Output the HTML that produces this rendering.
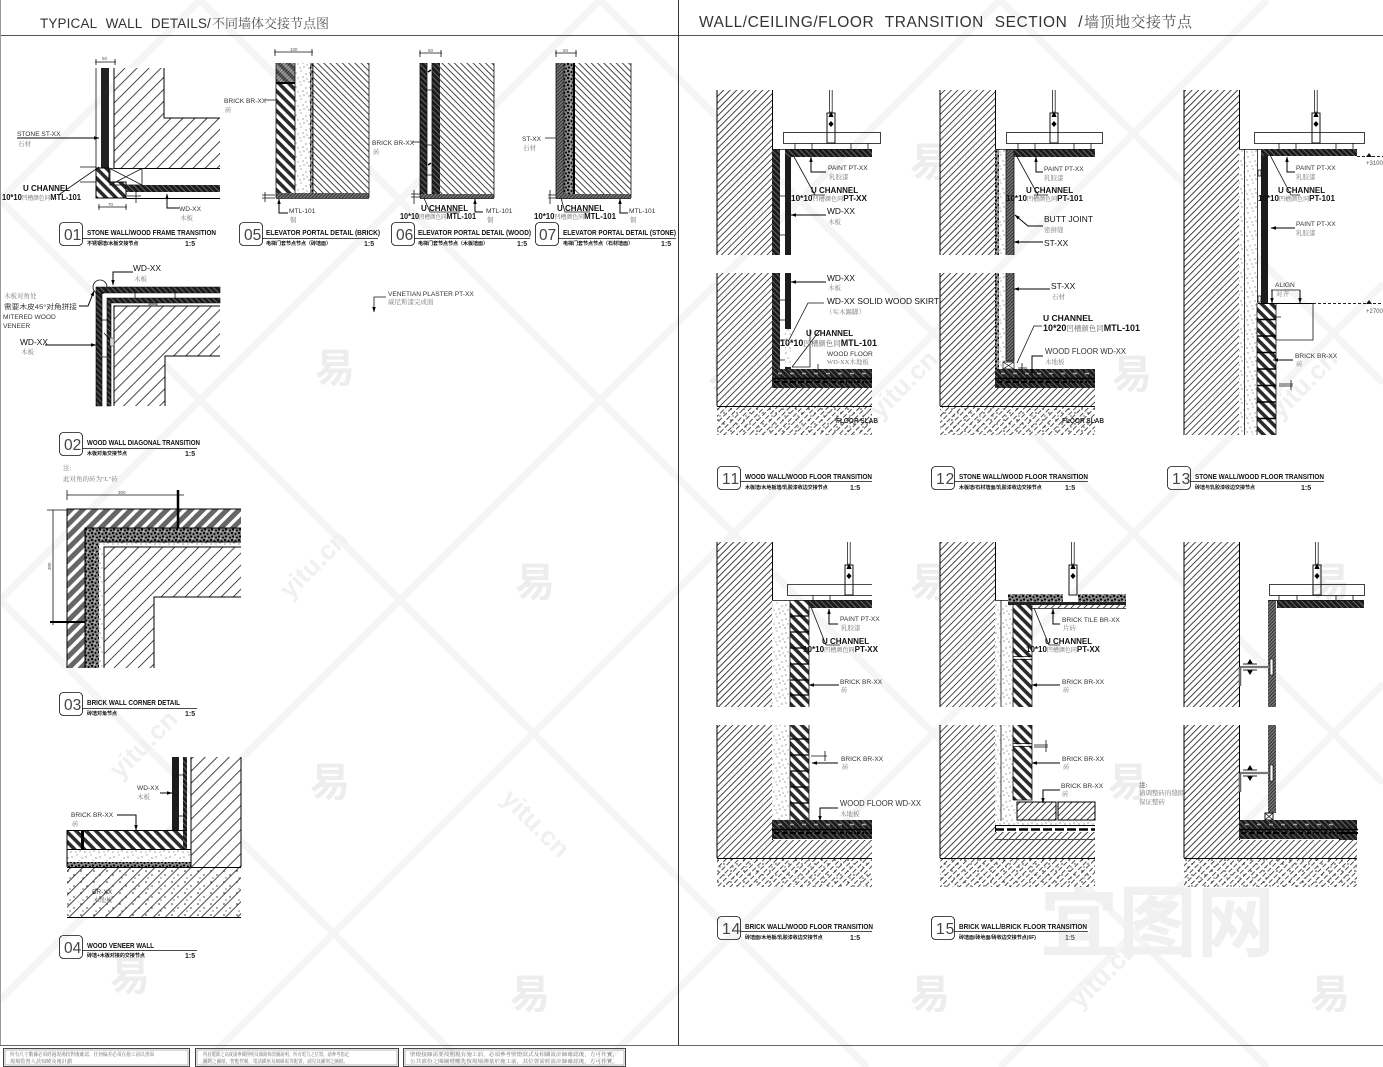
<!DOCTYPE html>
<html><head><meta charset="utf-8"><style>
html,body{margin:0;padding:0;background:#fff}
svg{display:block}
text{font-family:"Liberation Sans","Noto Sans CJK SC",sans-serif;fill:#333}
.l{font-size:6.6px}
.c{font-size:6.5px;fill:#777;font-family:"Liberation Serif","Noto Serif CJK SC",serif}
.m{font-size:8.4px;fill:#111}
.u{font-size:8px;fill:#111;font-weight:bold}
.g{font-size:6px;fill:#666;font-weight:normal;font-family:"Liberation Serif","Noto Serif CJK SC",serif}
.t{font-size:7px;font-weight:bold;fill:#111}
.s{font-size:5px;font-weight:bold;fill:#111}
.n{font-size:15.5px;fill:#444}
.k{font-size:7px;font-weight:bold;fill:#222}
.d{font-size:4.5px;fill:#555}
.f{font-size:5px;fill:#666;font-family:"Liberation Serif","Noto Serif CJK SC",serif}
.e{stroke:#000;fill:none;stroke-width:1}
.o{stroke:#111;fill:none;stroke-width:.8}
.w{fill:#ededed;font-size:40px;font-weight:bold}
.y{fill:#f0f0f0;font-size:26px;font-weight:bold}
.T{fill:#333;white-space:pre}
.Tc{fill:#555;font-family:"Liberation Serif","Noto Serif CJK SC",serif}
</style></head><body>
<svg xmlns="http://www.w3.org/2000/svg" width="1383" height="1067" viewBox="0 0 1383 1067">
<defs>
<pattern id="h" width="4.6" height="4.6" patternUnits="userSpaceOnUse" patternTransform="rotate(-45)"><rect width="4.6" height="4.6" fill="#fff"/><rect width="4.6" height=".9" fill="#333"/></pattern>
<pattern id="H" width="8.500" height="8.500" patternUnits="userSpaceOnUse" patternTransform="rotate(-45)"><rect width="8.500" height="8.500" fill="#fff"/><rect width="8.500" height=".9" fill="#333"/></pattern>
<pattern id="b" width="4.4" height="4.4" patternUnits="userSpaceOnUse" patternTransform="rotate(45)"><rect width="4.4" height="4.4" fill="#fff"/><rect width="4.4" height=".9" fill="#333"/></pattern>
<pattern id="br" width="7" height="7" patternUnits="userSpaceOnUse" patternTransform="rotate(45)"><rect width="7" height="7" fill="#fff"/><rect width="7" height="3.6" fill="#2a2a2a"/></pattern>
<pattern id="bq" width="8.5" height="8.5" patternUnits="userSpaceOnUse" patternTransform="rotate(-45)"><rect width="8.5" height="8.5" fill="#fff"/><rect width="8.5" height="5" fill="#666"/></pattern>
<pattern id="dt" width="14" height="14" patternUnits="userSpaceOnUse"><rect width="14" height="14" fill="#fff"/><g fill="#222"><circle cx="2" cy="3" r=".55"/><circle cx="7" cy="1" r=".45"/><circle cx="12" cy="4" r=".55"/><circle cx="4" cy="8" r=".45"/><circle cx="9" cy="7" r=".55"/><circle cx="13" cy="9" r=".45"/><circle cx="1" cy="12" r=".55"/><circle cx="6" cy="12" r=".45"/><circle cx="10" cy="11" r=".55"/></g></pattern>
<pattern id="dd" width="7" height="7" patternUnits="userSpaceOnUse"><rect width="7" height="7" fill="#888"/><g fill="#000"><circle cx="1" cy="1" r="1.100"/><circle cx="4.5" cy="2" r="1"/><circle cx="2" cy="4.5" r="1.100"/><circle cx="6" cy="5.5" r="1"/></g><circle cx="3.5" cy="6.3" r=".5" fill="#fff"/></pattern>
<pattern id="w" width="4" height="4" patternUnits="userSpaceOnUse" patternTransform="rotate(45)"><rect width="4" height="4" fill="#1c1c1c"/><rect width="4" height=".8" fill="#777"/></pattern>
<pattern id="gy" width="2.4" height="2.4" patternUnits="userSpaceOnUse" patternTransform="rotate(-45)"><rect width="2.4" height="2.4" fill="#777"/><rect width="2.4" height=".8" fill="#222"/></pattern>
<pattern id="sl" width="7" height="4.500" patternUnits="userSpaceOnUse" patternTransform="rotate(-45)"><rect width="7" height="4.500" fill="#fff"/><rect width="5" height=".9" fill="#333"/></pattern>
<pattern id="sd" width="13" height="11" patternUnits="userSpaceOnUse"><g fill="#222"><circle cx="3" cy="2" r=".8"/><circle cx="9" cy="6" r=".7"/><circle cx="5" cy="9" r=".6"/></g></pattern>
<g id="hg"><path d="M-1.5 0V23M1.2 0V23" stroke="#222" stroke-width=".8" fill="none"/><path d="M0 21l-2.6 6H2.6z" fill="#000"/><rect x="-4" y="23" width="8" height="30" fill="#fff" fill-opacity="0" stroke="#111"/><path d="M0 31l-2.6 3 2.6 3 2.6-3z" fill="#000"/></g>
<g id="fl"><rect x="0" y="0" width="100" height="19" fill="url(#w)"/><path d="M6 4.5H98" stroke="#aaa" stroke-width="1.6" stroke-dasharray="4 8"/><path d="M0 9.5H100" stroke="#000" stroke-width="1.4"/><path d="M0 13H100" stroke="#000" stroke-width="2" stroke-dasharray="7 1.5"/><path d="M0 13H100" stroke="#999" stroke-width=".7" stroke-dasharray="2 6"/></g>
<marker id="a" markerWidth="6" markerHeight="6" refX="5" refY="2.5" orient="auto" markerUnits="userSpaceOnUse"><path d="M0 .8L5.5 2.5L0 4.2z" fill="#000"/></marker>
</defs>
<rect width="1383" height="1067" fill="#fff"/>

<!-- watermark -->
<g stroke="#f5f5f5" stroke-width="7" fill="none">
<path d="M0 200L200 0M0 600L600 0M0 1000L1000 0M200 1067L1267 0M600 1067L1383 284M1000 1067L1383 684M0 600L467 1067M0 200L867 1067M200 0L1267 1067M600 0L1383 783M1000 0L1383 383"/>
</g>
<g class="w"><text class="w" x="315" y="382">易</text><text class="w" x="515" y="596">易</text><text class="w" x="110" y="990">易</text><text class="w" x="310" y="796">易</text><text class="w" x="910" y="176">易</text><text class="w" x="1112" y="388">易</text><text class="w" x="510" y="1008">易</text><text class="w" x="910" y="1008">易</text><text class="w" x="1310" y="1008">易</text><text class="w" x="1310" y="596">易</text><text class="w" x="910" y="596">易</text><text class="w" x="708" y="388">易</text><text class="w" x="1108" y="796">易</text></g>
<text class="y" transform="translate(290,600) rotate(-45)">yitu.cn</text>
<text class="y" transform="translate(500,800) rotate(45)">yitu.cn</text>
<text class="y" transform="translate(120,780) rotate(-45)">yitu.cn</text>
<text class="y" transform="translate(880,420) rotate(-45)">yitu.cn</text>
<text class="y" transform="translate(1280,420) rotate(-45)">yitu.cn</text>
<text class="y" transform="translate(1080,1010) rotate(-45)">yitu.cn</text>
<text x="1040" y="950" style="font-size:78px;fill:#f0f0f0;font-weight:bold" textLength="235" lengthAdjust="spacingAndGlyphs">宜图网</text>

<!-- frame -->
<path d="M0 35.5H1383" stroke="#555" stroke-width="1"/>
<path d="M678.5 0V1045" stroke="#333" stroke-width="1"/>
<path d="M.5 0V1045" stroke="#999" stroke-width="1"/>
<path d="M0 1045.5H1383" stroke="#666" stroke-width="1"/>
<text class="T" x="40" y="28" style="font-size:13.500px;letter-spacing:1.200px;word-spacing:5px" textLength="172" lengthAdjust="spacing">TYPICAL WALL DETAILS/</text>
<text class="Tc" x="212" y="28" style="font-size:13px" textLength="117" lengthAdjust="spacing">不同墙体交接节点图</text>
<text class="T" x="699" y="27" style="font-size:15.500px;letter-spacing:1.500px;word-spacing:6px" textLength="385" lengthAdjust="spacing">WALL/CEILING/FLOOR TRANSITION SECTION /</text>
<text class="Tc" x="1084" y="27" style="font-size:15px" textLength="108" lengthAdjust="spacing">墙顶地交接节点</text>

<!-- 01 -->
<path d="M114 68H164V118H220V168H114z" fill="url(#H)"/><path class="e" d="M114 68V168M164 68V118H220M114 168.500H220"/>
<rect x="101" y="68" width="8" height="100" fill="#222"/><path class="o" d="M96 68V198"/>
<path d="M96 168H109V182H126V198H96z" fill="url(#br)" stroke="#000"/>
<path class="o" d="M110 168.500H142V185H110zM110 168.500L142 185M142 168.500L110 185"/>
<rect x="126" y="185" width="94" height="7" fill="url(#w)"/><path class="e" d="M126 198.500H220"/>
<path class="o" d="M95 62H116M96 59V65M115 59V65M98 207H127M99 204V210M126 204V210M80 167H96M80 182H96M136 190V203M127 196H141"/>
<path class="e" d="M17 138H99" marker-end="url(#a)"/><path class="o" d="M60 194L99 167"/><path class="e" d="M179 208H167V194" marker-end="url(#a)"/>
<text class="d" x="102" y="60">50</text><text class="d" x="108" y="206">70</text>
<text class="l" x="17" y="136">STONE ST-XX</text><text class="c" x="18" y="146">石材</text>
<text class="u" x="23" y="191">U CHANNEL</text><text class="u" x="2" y="200" textLength="79" lengthAdjust="spacingAndGlyphs">10*10<tspan class="g">凹槽颜色同</tspan>MTL-101</text>
<text class="l" x="179" y="211">WD-XX</text><text class="c" x="180" y="220">木板</text>
<rect x="59.500" y="222.500" width="23" height="23" rx="4" class="o"/><text class="n" x="64" y="240">01</text>
<path class="o" d="M82 238.500H197"/><text class="t" x="87" y="235" textLength="129" lengthAdjust="spacingAndGlyphs">STONE WALL/WOOD FRAME TRANSITION</text><text class="s" x="87" y="245">不锈钢墙/木板交接节点</text><text class="k" x="185" y="246">1:5</text>

<!-- 05 -->
<rect x="276" y="63" width="19" height="130" fill="url(#br)"/><rect x="295" y="63" width="18" height="130" fill="url(#dt)"/><rect x="310" y="63" width="3" height="130" fill="url(#dd)"/>
<rect x="276" y="63" width="19" height="20" fill="url(#gy)" opacity=".7"/><path d="M276 83H295" stroke="#000" stroke-width="2"/>
<rect x="313" y="63" width="56" height="130" fill="url(#b)"/><rect x="276" y="193" width="93" height="5" fill="url(#gy)"/><path class="o" d="M276 63V198M295 63V193M313 63V193M369 63V198M276 198.500H369"/>
<path class="o" d="M274 52H313M275 49V56M312 49V56M265 192V202M262 195H275M262 198H275M265 100H276"/><path class="e" d="M288 213H279V199" marker-end="url(#a)"/>
<text class="d" x="290" y="51">100</text>
<text class="l" x="224" y="103">BRICK BR-XX</text><text class="c" x="225" y="112">砖</text><text class="l" x="289" y="213">MTL-101</text><text class="c" x="290" y="222">铜</text>
<rect x="239.500" y="222.500" width="23" height="23" rx="4" class="o"/><text class="n" x="244" y="240">05</text>
<path class="o" d="M262 238.500H378"/><text class="t" x="266" y="235" textLength="114" lengthAdjust="spacingAndGlyphs">ELEVATOR PORTAL DETAIL (BRICK)</text><text class="s" x="266" y="245">电梯门套节点节点（砖墙面）</text><text class="k" x="364" y="246">1:5</text>
<text class="l" x="372" y="145">BRICK BR-XX</text><text class="c" x="373" y="154">砖</text><path class="o" d="M412 142H420"/>

<!-- 06 -->
<rect x="420" y="63" width="7" height="131" fill="url(#w)"/><rect x="432" y="63" width="8" height="131" fill="url(#w)"/><rect x="440" y="63" width="54" height="131" fill="url(#b)"/>
<rect x="420" y="194" width="74" height="4.500" fill="url(#gy)"/><path class="o" d="M427 90H432M427 145H432M427 175H432M427 63V194M432 63V194M494 63V198M420 63V198M420 198.500H494"/>
<path d="M428 72l3 -2M428 165l3-2" stroke="#000" stroke-width="1.500"/>
<path class="o" d="M419 53H442M420 50V57M441 50V57M411 194H420M411 197H420M414 190V204M424 198L430 212H460"/><path class="e" d="M483 212H475V199" marker-end="url(#a)"/>
<text class="d" x="428" y="52">50</text>
<text class="u" x="421" y="211">U CHANNEL</text><text class="u" x="400" y="219" textLength="76" lengthAdjust="spacingAndGlyphs">10*10<tspan class="g">凹槽颜色同</tspan>MTL-101</text>
<text class="l" x="486" y="213">MTL-101</text><text class="c" x="487" y="222">铜</text>
<rect x="391.500" y="222.500" width="23" height="23" rx="4" class="o"/><text class="n" x="396" y="240">06</text>
<path class="o" d="M414 238.500H530"/><text class="t" x="418" y="235" textLength="113" lengthAdjust="spacingAndGlyphs">ELEVATOR PORTAL DETAIL (WOOD)</text><text class="s" x="418" y="245">电梯门套节点节点（木板墙面）</text><text class="k" x="517" y="246">1:5</text>

<!-- 07 -->
<rect x="556" y="63" width="8" height="131" fill="url(#gy)"/><rect x="564" y="63" width="9" height="131" fill="url(#dd)"/><rect x="573" y="63" width="2.500" height="131" fill="#000"/><rect x="575" y="63" width="56" height="131" fill="url(#b)"/>
<rect x="556" y="194" width="75" height="4.500" fill="url(#gy)"/><path class="o" d="M556 63V198M631 63V198M556 198.500H631M564 63V194"/>
<path class="o" d="M555 53H577M556 50V57M576 50V57M545 138H556M548 195H556M548 198H556M550 190V204M561 198L565 212H590"/><path class="e" d="M628 213H620V199" marker-end="url(#a)"/>
<text class="d" x="563" y="52">50</text>
<text class="l" x="522" y="141">ST-XX</text><text class="c" x="523" y="150">石材</text>
<text class="u" x="557" y="211">U CHANNEL</text><text class="u" x="534" y="219" textLength="82" lengthAdjust="spacingAndGlyphs">10*10<tspan class="g">凹槽颜色同</tspan>MTL-101</text>
<text class="l" x="629" y="213">MTL-101</text><text class="c" x="630" y="222">铜</text>
<rect x="535.500" y="222.500" width="23" height="23" rx="4" class="o"/><text class="n" x="539" y="240">07</text>
<path class="o" d="M558 238.500H676"/><text class="t" x="563" y="235" textLength="113" lengthAdjust="spacingAndGlyphs">ELEVATOR PORTAL DETAIL (STONE)</text><text class="s" x="563" y="245">电梯门套节点节点（石材墙面）</text><text class="k" x="661" y="246">1:5</text>

<!-- venetian -->
<path class="o" d="M386 297H374V312" marker-end="url(#a)"/>
<text class="l" x="388" y="296">VENETIAN PLASTER  PT-XX</text><text class="c" x="388" y="304">威尼斯漆完成面</text>

<!-- 02 -->
<path d="M114 306H220V356H165V406H114z" fill="url(#H)"/><path class="e" d="M114 406V306H220M220 356H165V406"/>
<path d="M96 287H220V293H102V406H96z" fill="url(#w)" stroke="#000" stroke-width=".6"/>
<path d="M107 298H220V303H111V406H107z" fill="url(#w)" stroke="#000" stroke-width=".6"/>
<path class="o" d="M102 320H107M102 357H107M135 293V298M175 293V298M104 333L110 340"/>
<rect x="149" y="303" width="8" height="3" fill="#999" stroke="#222" stroke-width=".5"/><rect x="110" y="338" width="4" height="8" fill="#ddd" stroke="#222" stroke-width=".5"/>
<circle cx="100" cy="287" r="7" class="o"/>
<path class="e" d="M79 306H88L94 291" marker-end="url(#a)"/><path class="e" d="M133 272H113V285" marker-end="url(#a)"/><path class="e" d="M45 345H96" marker-end="url(#a)"/>
<text class="c" x="4" y="298">木板对角处</text><text class="l" x="4" y="309" textLength="73" lengthAdjust="spacingAndGlyphs">需要木皮45°对角拼接</text><text class="l" x="3" y="319">MITERED WOOD</text><text class="l" x="3" y="328">VENEER</text>
<text class="m" x="133" y="271">WD-XX</text><text class="c" x="134" y="281">木板</text><text class="m" x="20" y="345">WD-XX</text><text class="c" x="21" y="354">木板</text>
<rect x="59.500" y="432.500" width="23" height="23" rx="4" class="o"/><text class="n" x="64" y="450">02</text>
<path class="o" d="M82 448.500H197"/><text class="t" x="87" y="445" textLength="113" lengthAdjust="spacingAndGlyphs">WOOD WALL DIAGONAL TRANSITION</text><text class="s" x="87" y="455">木板对角交接节点</text><text class="k" x="185" y="456">1:5</text>
<text class="c" x="63" y="470">注:</text><text class="c" x="63" y="481">此对角的砖为"L"砖</text>

<!-- 03 -->
<path d="M67 509H241V528H85V668H67z" fill="url(#bq)"/>
<path d="M85 528H241V542H99V668H85z" fill="url(#dd)"/>
<path d="M99 542H241V547H104V668H99z" fill="url(#dt)"/>
<path d="M104 547H241V597H154V668H104z" fill="url(#H)"/>
<path class="e" d="M67 668V509H241M85 668V528H241M104 668V547H241M241 597H154V668M99 542H241"/>
<path class="o" d="M67 495H184M67 490V500M53 510V625M47 510H67"/><path d="M178 490V528" stroke="#000" stroke-width="2.500"/><path d="M50 622H85" stroke="#000" stroke-width="2"/>
<text class="d" x="118" y="494">300</text><text class="d" transform="translate(51,570) rotate(-90)">300</text>
<rect x="59.500" y="692.500" width="23" height="23" rx="4" class="o"/><text class="n" x="64" y="710">03</text>
<path class="o" d="M82 708.500H197"/><text class="t" x="87" y="705" textLength="93" lengthAdjust="spacingAndGlyphs">BRICK WALL CORNER DETAIL</text><text class="s" x="87" y="715">砖墙对角节点</text><text class="k" x="185" y="716">1:5</text>

<!-- 04 -->
<path d="M191 757H241V867H191z" fill="url(#H)"/><path class="e" d="M191 757V867M241 757V867"/>
<rect x="172" y="757" width="7" height="73" fill="#1c1c1c"/><rect x="183" y="757" width="4" height="73" fill="url(#w)"/><path class="o" d="M179 775H183M179 816H183"/>
<rect x="67" y="830" width="116" height="19" fill="url(#br)"/><rect x="81" y="830" width="3" height="19" fill="#000"/><rect x="183" y="830" width="4" height="19" fill="url(#w)"/>
<rect x="67" y="850" width="124" height="11" fill="url(#dt)"/><rect x="67" y="862" width="124" height="5" fill="url(#dd)"/>
<rect x="67" y="867" width="174" height="50" fill="url(#H)"/><rect x="67" y="867" width="174" height="50" fill="url(#sd)"/>
<path class="e" d="M67 830.500H187M67 849.500H191M67 867.500H241M67 917.500H241M67 830V867M191 830V867"/>
<path class="e" d="M160 793H172" marker-end="url(#a)"/><path class="e" d="M117 815H136V830" marker-end="url(#a)"/>
<text class="l" x="137" y="790">WD-XX</text><text class="c" x="137" y="799">木板</text><text class="l" x="71" y="817">BRICK BR-XX</text><text class="c" x="72" y="826">砖</text>
<text class="l" x="92" y="894">BR-XX</text><text class="c" x="93" y="902">木地板</text>
<rect x="59.500" y="935.500" width="23" height="23" rx="4" class="o"/><text class="n" x="64" y="953">04</text>
<path class="o" d="M82 950.500H197"/><text class="t" x="87" y="948" textLength="67" lengthAdjust="spacingAndGlyphs">WOOD VENEER WALL</text><text class="s" x="87" y="957">砖墙+木板对接的交接节点</text><text class="k" x="185" y="958">1:5</text>

<!-- 11 -->
<rect x="717" y="90" width="55" height="165" fill="url(#h)"/><rect x="717" y="273" width="55" height="133" fill="url(#h)"/>
<path class="e" d="M717 90V255M772.500 90V255M717 273V406M772.500 273V406"/>
<rect x="772" y="149" width="8" height="106" fill="url(#w)"/><rect x="785" y="149" width="6" height="106" fill="#1c1c1c"/><rect x="785" y="149" width="87" height="8" fill="url(#w)"/>
<path class="o" d="M772 149.500H872M780 196H785M780 235H785"/>
<rect x="783.500" y="132.500" width="97" height="11" fill="#fff" class="o"/><path class="o" d="M795 143V149M812 143V149M851 143V149M868 143V149"/>
<use href="#hg" x="831" y="90"/>
<rect x="772" y="273" width="8" height="97" fill="url(#w)"/><rect x="785" y="273" width="6" height="97" fill="#1c1c1c"/><rect x="785" y="329" width="6" height="38" fill="url(#dt)"/><path class="o" d="M780 300H785M780 320H785M780 340H785M780 360H785M792 367H810V329"/>
<use href="#fl" x="772" y="369"/>
<rect x="772" y="388" width="100" height="18" fill="url(#h)"/>
<rect x="717" y="406" width="155" height="29" fill="url(#sl)"/><rect x="717" y="406" width="155" height="29" fill="url(#sd)"/><path class="e" d="M717 406.500H872"/>
<path class="o" d="M793 155L815 195M825 195H811M789 340L808 303H824M792 367L820 330M818 364V372"/><path class="e" d="M826 172H811V157" marker-end="url(#a)"/>
<path class="e" d="M826 215H791" marker-end="url(#a)"/><path class="e" d="M826 282H791" marker-end="url(#a)"/>
<text class="l" x="828" y="170">PAINT PT-XX</text><text class="c" x="829" y="179">乳胶漆</text>
<text class="u" x="811" y="193">U CHANNEL</text><text class="u" x="791" y="201" textLength="76" lengthAdjust="spacingAndGlyphs">10*10<tspan class="g">凹槽颜色同</tspan>PT-XX</text>
<text class="m" x="827" y="214">WD-XX</text><text class="c" x="828" y="224">木板</text><text class="m" x="827" y="281">WD-XX</text><text class="c" x="828" y="290">木板</text>
<text class="m" x="827" y="304" textLength="127" lengthAdjust="spacing">WD-XX SOLID WOOD SKIRTING</text><text class="c" x="826" y="314">（实木踢脚）</text>
<text class="u" x="806" y="336">U CHANNEL</text><text class="u" x="780" y="346" textLength="97" lengthAdjust="spacingAndGlyphs" style="font-size:9px">10*10<tspan class="g" style="font-size:7.500px">凹槽颜色同</tspan>MTL-101</text>
<text class="l" x="827" y="356">WOOD FLOOR</text><text class="c" x="827" y="364">WD-XX木地板</text>
<text class="k" x="836" y="423" textLength="42" lengthAdjust="spacingAndGlyphs">FLOOR SLAB</text>
<rect x="717.500" y="466.500" width="23" height="23" rx="4" class="o"/><text class="n" x="722" y="484" letter-spacing="1">11</text>
<path class="o" d="M740 481.500H872"/><text class="t" x="745" y="479" textLength="127" lengthAdjust="spacingAndGlyphs">WOOD WALL/WOOD FLOOR TRANSITION</text><text class="s" x="745" y="489">木板墙/木地板墙/乳胶漆收边交接节点</text><text class="k" x="850" y="490">1:5</text>

<!-- 12 -->
<rect x="940" y="90" width="55" height="165" fill="url(#h)"/><rect x="940" y="273" width="55" height="133" fill="url(#h)"/>
<path class="e" d="M940 90V255M995.500 90V255M940 273V406M995.500 273V406"/>
<rect x="995" y="149" width="4" height="106" fill="url(#dd)"/><rect x="999" y="149" width="7" height="106" fill="url(#dt)"/><rect x="1006" y="149" width="8" height="106" fill="url(#gy)"/><rect x="1014" y="149" width="81" height="8" fill="url(#w)"/>
<rect x="995" y="273" width="4" height="97" fill="url(#dd)"/><rect x="999" y="273" width="7" height="97" fill="url(#dt)"/><rect x="1006" y="273" width="8" height="88" fill="url(#gy)"/>
<path class="o" d="M995 149.500H1095M1006 149V255M1014 149V255M1006 273V361M1014 273V361M1006 361H1014"/>
<rect x="1006.500" y="132.500" width="96" height="11" fill="#fff" class="o"/><path class="o" d="M1018 143V149M1035 143V149M1074 143V149M1091 143V149"/>
<use href="#hg" x="1054" y="90"/>
<path d="M1003 362H1014V369H1003zM1003 362L1014 369M1014 362L1003 369" fill="none" stroke="#111" stroke-width=".7"/>
<use href="#fl" x="995" y="369"/>
<rect x="995" y="388" width="100" height="18" fill="url(#h)"/>
<rect x="940" y="406" width="155" height="29" fill="url(#sl)"/><rect x="940" y="406" width="155" height="29" fill="url(#sd)"/><path class="e" d="M940 406.500H1095"/>
<path class="o" d="M1016 155L1038 195M1048 195H1034M1022 363V374M1018 368H1027M1017 363L1034 326H1042"/><path class="e" d="M1043 172H1036V157" marker-end="url(#a)"/><path class="e" d="M1043 356H1032V374" marker-end="url(#a)"/>
<path class="e" d="M1043 226H1028L1015 215" marker-end="url(#a)"/><path class="e" d="M1043 242H1014" marker-end="url(#a)"/><path class="e" d="M1050 289H1014" marker-end="url(#a)"/>
<text class="l" x="1044" y="171">PAINT PT-XX</text><text class="c" x="1044" y="180">乳胶漆</text>
<text class="u" x="1026" y="193">U CHANNEL</text><text class="u" x="1006" y="201" textLength="77" lengthAdjust="spacingAndGlyphs">10*10<tspan class="g">凹槽颜色同</tspan>PT-101</text>
<text class="m" x="1044" y="222" textLength="49" lengthAdjust="spacing">BUTT JOINT</text><text class="c" x="1044" y="232">密拼缝</text><text class="m" x="1044" y="246">ST-XX</text>
<text class="m" x="1051" y="289">ST-XX</text><text class="c" x="1052" y="299">石材</text>
<text class="u" x="1043" y="321" style="font-size:8.500px">U CHANNEL</text><text class="u" x="1043" y="331" textLength="97" lengthAdjust="spacingAndGlyphs" style="font-size:9px">10*20<tspan class="g" style="font-size:7.500px">凹槽颜色同</tspan>MTL-101</text>
<text class="l" x="1045" y="354" style="font-size:7.800px" textLength="81" lengthAdjust="spacingAndGlyphs">WOOD FLOOR WD-XX</text><text class="c" x="1045" y="364">木地板</text>
<text class="k" x="1062" y="423" textLength="42" lengthAdjust="spacingAndGlyphs">FLOOR SLAB</text>
<rect x="931.500" y="466.500" width="23" height="23" rx="4" class="o"/><text class="n" x="936" y="484" letter-spacing="1">12</text>
<path class="o" d="M954 481.500H1088"/><text class="t" x="959" y="479" textLength="129" lengthAdjust="spacingAndGlyphs">STONE WALL/WOOD FLOOR TRANSITION</text><text class="s" x="959" y="489">木板墙/石材墙面/乳胶漆收边交接节点</text><text class="k" x="1065" y="490">1:5</text>

<!-- 13 -->
<rect x="1184" y="90" width="55" height="345" fill="url(#h)"/><path class="e" d="M1184 90V435M1239.500 90V435"/>
<rect x="1239" y="149" width="5" height="286" fill="url(#dt)"/><rect x="1245" y="149" width="12" height="286" fill="url(#dt)"/><path class="o" d="M1244.500 149V435M1257.500 149V303"/>
<rect x="1261" y="149" width="7" height="154" fill="#1c1c1c"/><rect x="1261" y="149" width="96" height="7" fill="url(#w)"/>
<path class="o" d="M1239 149.500H1261M1258 170h3v6h-3zM1258 296h3v6h-3z"/>
<rect x="1254.500" y="132.500" width="110" height="11" fill="#fff" class="o"/><path class="o" d="M1279 143V149M1296 143V149M1336 143V149M1353 143V149"/>
<use href="#hg" x="1316" y="90"/>
<rect x="1257" y="303" width="19" height="132" fill="url(#br)"/>
<path d="M1257 319.500H1276M1257 336H1276M1257 352.500H1276M1257 369H1276M1257 385.500H1276M1257 402H1276M1257 418.500H1276" stroke="#000" stroke-width="1.500"/>
<path class="o" d="M1257 303V435M1276 303V435"/>
<path class="e" d="M1258 303.500H1313"/><path d="M1313 303.500H1383M1357 156.500H1383" stroke="#222" stroke-dasharray="3 2" fill="none"/>
<path class="o" d="M1276 340H1313V303M1273 317H1281M1279 384H1293M1279 386H1293M1291 380V390"/>
<path d="M1366 157l3-4 3 4zM1366 304l3-4 3 4z" fill="#111"/>
<path class="o" d="M1270 155L1291 195H1300M1271 290H1300"/><path class="e" d="M1295 172H1287V157" marker-end="url(#a)"/><path class="e" d="M1295 228H1271" marker-end="url(#a)"/><path class="e" d="M1272 290V303" marker-end="url(#a)"/><path class="e" d="M1300 290V303" marker-end="url(#a)"/><path class="e" d="M1293 360H1273" marker-end="url(#a)"/>
<text class="d" x="1366" y="165" style="font-size:6px">+3100</text><text class="d" x="1366" y="313" style="font-size:6px">+2700</text>
<text class="l" x="1296" y="170">PAINT PT-XX</text><text class="c" x="1296" y="179">乳胶漆</text>
<text class="u" x="1278" y="193">U CHANNEL</text><text class="u" x="1258" y="201" textLength="77" lengthAdjust="spacingAndGlyphs">10*10<tspan class="g">凹槽颜色同</tspan>PT-101</text>
<text class="l" x="1296" y="226">PAINT PT-XX</text><text class="c" x="1296" y="235">乳胶漆</text>
<text class="l" x="1275" y="287">ALIGN</text><text class="c" x="1276" y="296">对齐</text>
<text class="l" x="1295" y="358">BRICK BR-XX</text><text class="c" x="1296" y="366">砖</text>
<rect x="1167.500" y="466.500" width="23" height="23" rx="4" class="o"/><text class="n" x="1172" y="484" letter-spacing="1">13</text>
<path class="o" d="M1190 481.500H1324"/><text class="t" x="1195" y="479" textLength="129" lengthAdjust="spacingAndGlyphs">STONE WALL/WOOD FLOOR TRANSITION</text><text class="s" x="1195" y="489">砖墙与乳胶漆收边交接节点</text><text class="k" x="1301" y="490">1:5</text>

<!-- 14 -->
<rect x="717" y="542" width="55" height="165" fill="url(#h)"/><rect x="717" y="725" width="55" height="133" fill="url(#h)"/>
<path class="e" d="M717 542V707M772.500 542V707M717 725V858M772.500 725V858"/>
<rect x="772" y="600" width="6" height="107" fill="url(#dt)"/><rect x="778" y="600" width="12" height="107" fill="url(#dt)"/>
<rect x="772" y="725" width="18" height="95" fill="url(#dt)"/>
<rect x="790" y="600" width="19" height="107" fill="url(#br)"/><rect x="790" y="725" width="19" height="95" fill="url(#br)"/>
<path d="M790 616H809M790 632H809M790 648H809M790 664H809M790 680H809M790 695H809M790 739H809M790 755H809M790 771H809M790 787H809M790 803H809" stroke="#000" stroke-width="1.200"/>
<path class="o" d="M790 600V707M809 600V707M790 725V820M809 725V820"/>
<rect x="809" y="600" width="63" height="8" fill="url(#w)"/><path class="o" d="M772 600.500H872"/>
<path class="o" d="M872 584.500H787.500V595.500H872"/><path class="o" d="M813 595V600M830 595V600"/>
<use href="#hg" x="849" y="542"/>
<use href="#fl" x="772" y="820"/>
<rect x="772" y="840" width="100" height="18" fill="url(#h)"/>
<rect x="717" y="858" width="155" height="29" fill="url(#sl)"/><rect x="717" y="858" width="155" height="29" fill="url(#sd)"/><path class="e" d="M717 858.500H872"/>
<path class="o" d="M811 607L826 645H840M811 756H827M825 751V761"/><path class="e" d="M838 624H829V609" marker-end="url(#a)"/><path class="e" d="M839 685H809" marker-end="url(#a)"/><path class="e" d="M838 763H812" marker-end="url(#a)"/><path class="e" d="M838 808H820V821" marker-end="url(#a)"/>
<text class="l" x="840" y="621">PAINT PT-XX</text><text class="c" x="841" y="630">乳胶漆</text>
<text class="u" x="822" y="644">U CHANNEL</text><text class="u" x="803" y="652" textLength="75" lengthAdjust="spacingAndGlyphs">10*10<tspan class="g">凹槽颜色同</tspan>PT-XX</text>
<text class="l" x="840" y="684">BRICK BR-XX</text><text class="c" x="841" y="692">砖</text>
<text class="l" x="841" y="761">BRICK BR-XX</text><text class="c" x="842" y="769">砖</text>
<text class="l" x="840" y="806" style="font-size:7.800px" textLength="81" lengthAdjust="spacingAndGlyphs">WOOD FLOOR WD-XX</text><text class="c" x="840" y="816">木地板</text>
<rect x="717.500" y="916.500" width="23" height="23" rx="4" class="o"/><text class="n" x="722" y="934" letter-spacing="1">14</text>
<path class="o" d="M740 931.500H872"/><text class="t" x="745" y="929" textLength="128" lengthAdjust="spacingAndGlyphs">BRICK WALL/WOOD FLOOR TRANSITION</text><text class="s" x="745" y="939">砖墙面/木地板/乳胶漆收边交接节点</text><text class="k" x="850" y="940">1:5</text>

<!-- 15 -->
<rect x="940" y="542" width="55" height="165" fill="url(#h)"/><rect x="940" y="725" width="55" height="133" fill="url(#h)"/>
<path class="e" d="M940 542V707M995.500 542V707M940 725V858M995.500 725V858"/>
<rect x="995" y="600" width="18" height="107" fill="url(#dt)"/><rect x="995" y="725" width="22" height="100" fill="url(#dt)"/><path class="o" d="M1001 600V707M1001 725V825"/>
<rect x="1013" y="605" width="19" height="102" fill="url(#br)"/><rect x="1013" y="725" width="19" height="75" fill="url(#br)"/>
<path d="M1013 658H1032M1013 745H1032" stroke="#fff" stroke-width="1.600"/><path d="M1013 656.500H1032M1013 659.500H1032M1013 743.500H1032M1013 746.500H1032" stroke="#000" stroke-width=".7"/>
<path class="o" d="M1013 605V707M1032 605V707M1013 725V800M1032 725V800H1013"/>
<rect x="1008" y="594" width="118" height="8" fill="url(#dd)"/><rect x="1063" y="594" width="15" height="8" fill="#fff"/><rect x="1008" y="602" width="118" height="3" fill="#222"/>
<rect x="1035" y="605" width="91" height="3" fill="url(#h)"/>
<path class="o" d="M995 600.500H1008M1032 608.500H1126"/>
<use href="#hg" x="1073" y="542"/>
<path d="M1017 802H1056V820H1017zM1058 802H1095V820H1058z" fill="url(#h)" stroke="#000"/>
<rect x="995" y="821" width="100" height="5" fill="url(#dt)"/>
<path class="e" d="M995 825.500H1095"/><path d="M995 829.500H1095" stroke="#000" stroke-width="2.500" stroke-dasharray="9 3"/>
<rect x="995" y="832" width="100" height="7" fill="url(#h)"/><rect x="995" y="840" width="100" height="18" fill="url(#h)"/><path class="o" d="M995 839.500H1095"/>
<rect x="940" y="858" width="155" height="29" fill="url(#sl)"/><rect x="940" y="858" width="155" height="29" fill="url(#sd)"/><path class="e" d="M940 858.500H1095"/>
<path class="o" d="M1034 608L1049 645H1060M1034 745H1048M1034 747H1048M1046 740V752"/><path class="e" d="M1060 624H1053V609" marker-end="url(#a)"/><path class="e" d="M1060 685H1032" marker-end="url(#a)"/><path class="e" d="M1060 763H1032" marker-end="url(#a)"/><path class="e" d="M1060 790H1043V803" marker-end="url(#a)"/>
<text class="l" x="1062" y="622">BRICK TILE BR-XX</text><text class="c" x="1063" y="630">片砖</text>
<text class="u" x="1045" y="644">U CHANNEL</text><text class="u" x="1026" y="652" textLength="74" lengthAdjust="spacingAndGlyphs">10*10<tspan class="g">凹槽颜色同</tspan>PT-XX</text>
<text class="l" x="1062" y="684">BRICK BR-XX</text><text class="c" x="1063" y="692">砖</text>
<text class="l" x="1062" y="761">BRICK BR-XX</text><text class="c" x="1063" y="769">砖</text>
<text class="l" x="1061" y="788">BRICK BR-XX</text><text class="c" x="1062" y="796">砖</text>
<rect x="931.500" y="916.500" width="23" height="23" rx="4" class="o"/><text class="n" x="936" y="934" letter-spacing="1">15</text>
<path class="o" d="M954 931.500H1088"/><text class="t" x="959" y="929" textLength="128" lengthAdjust="spacingAndGlyphs">BRICK WALL/BRICK FLOOR TRANSITION</text><text class="s" x="959" y="939">砖墙面/砖地面/砖收边交接节点(6F)</text><text class="k" x="1065" y="940" style="font-weight:normal">1:5</text>

<!-- 16 -->
<rect x="1184" y="542" width="55" height="165" fill="url(#h)"/><rect x="1184" y="725" width="55" height="133" fill="url(#h)"/>
<path class="e" d="M1184 542V707M1239.500 542V707M1184 725V858M1239.500 725V858"/>
<rect x="1268" y="600" width="8" height="107" fill="url(#gy)"/><rect x="1268" y="725" width="8" height="88" fill="url(#gy)"/>
<rect x="1277" y="600" width="87" height="8" fill="url(#w)"/><path class="o" d="M1268 600.500H1364"/>
<rect x="1269.500" y="584.500" width="95" height="11" fill="#fff" class="o"/><path class="o" d="M1279 595V600M1297 595V600M1336 595V600M1353 595V600"/>
<use href="#hg" x="1317" y="542"/>
<g id="brk"><path d="M1240 667H1270" stroke="#777" stroke-width="2.200"/><path d="M1240 667V686" stroke="#666" stroke-width="2.500"/><path d="M1250 659L1247 664H1253zM1250 675L1247 670H1253z" fill="#000"/><path d="M1243 664H1257M1243 670H1257" stroke="#222"/><rect x="1270" y="659" width="3" height="16" fill="#fff" stroke="#111" stroke-width=".7"/></g>
<use href="#brk" y="106"/>
<rect x="1265" y="813" width="8" height="7" fill="#fff" stroke="#111"/><path class="o" d="M1265 813L1273 820M1273 813L1265 820"/>
<use href="#fl" x="1239" y="820" /><rect x="1339" y="820" width="18" height="20" fill="url(#w)"/><path d="M1339 829.500H1358" stroke="#000" stroke-width="1.400"/><path d="M1339 833H1358" stroke="#000" stroke-width="2"/>
<rect x="1239" y="840" width="118" height="18" fill="url(#h)"/>
<rect x="1184" y="858" width="173" height="29" fill="url(#sl)"/><rect x="1184" y="858" width="173" height="29" fill="url(#sd)"/><path class="e" d="M1184 858.500H1357"/>
<text class="c" x="1139" y="787" style="fill:#222">注:</text><text class="c" x="1139" y="795">请调整砖的缝隙</text><text class="c" x="1139" y="804">保证整砖</text>

<!-- footer -->
<path class="o" d="M3.500 1048.500H189.500V1066.500H3.500zM195.500 1048.500H398.500V1066.500H195.500zM403.500 1048.500H625.500V1066.500H403.500z"/>
<path d="M5 1050H188V1065H5zM197 1050H397V1065H197zM405 1050H624V1065H405z" fill="none" stroke="#777" stroke-width=".5"/>
<text class="f" x="10" y="1056" textLength="144" lengthAdjust="spacingAndGlyphs">所有尺寸數據必須經過現場校對後確認，任何偏差必須在施工前以書面</text>
<text class="f" x="10" y="1063" textLength="62" lengthAdjust="spacingAndGlyphs">現場監督人員知曉及後計劃</text>
<text class="f" x="203" y="1056" textLength="146" lengthAdjust="spacingAndGlyphs">所有電源之高度請參閱照明及線路佈置圖說明，所有電力之位置，請參考指定</text>
<text class="f" x="203" y="1063" textLength="145" lengthAdjust="spacingAndGlyphs">圖則之圖紙，智能控制，電話插座及網絡需等配置，請見其圖則之圖紙。</text>
<text class="f" x="410" y="1056" textLength="208" lengthAdjust="spacingAndGlyphs">壁燈接線需要按照現有施工前，必須參考壁燈款式及相關設計師確認後，方可作實，</text>
<text class="f" x="410" y="1063" textLength="208" lengthAdjust="spacingAndGlyphs">公共部份之閱圖燈應先復現場測量於施工前，其位置需經設計師確認後，方可作實。</text>
</svg>
</body></html>
